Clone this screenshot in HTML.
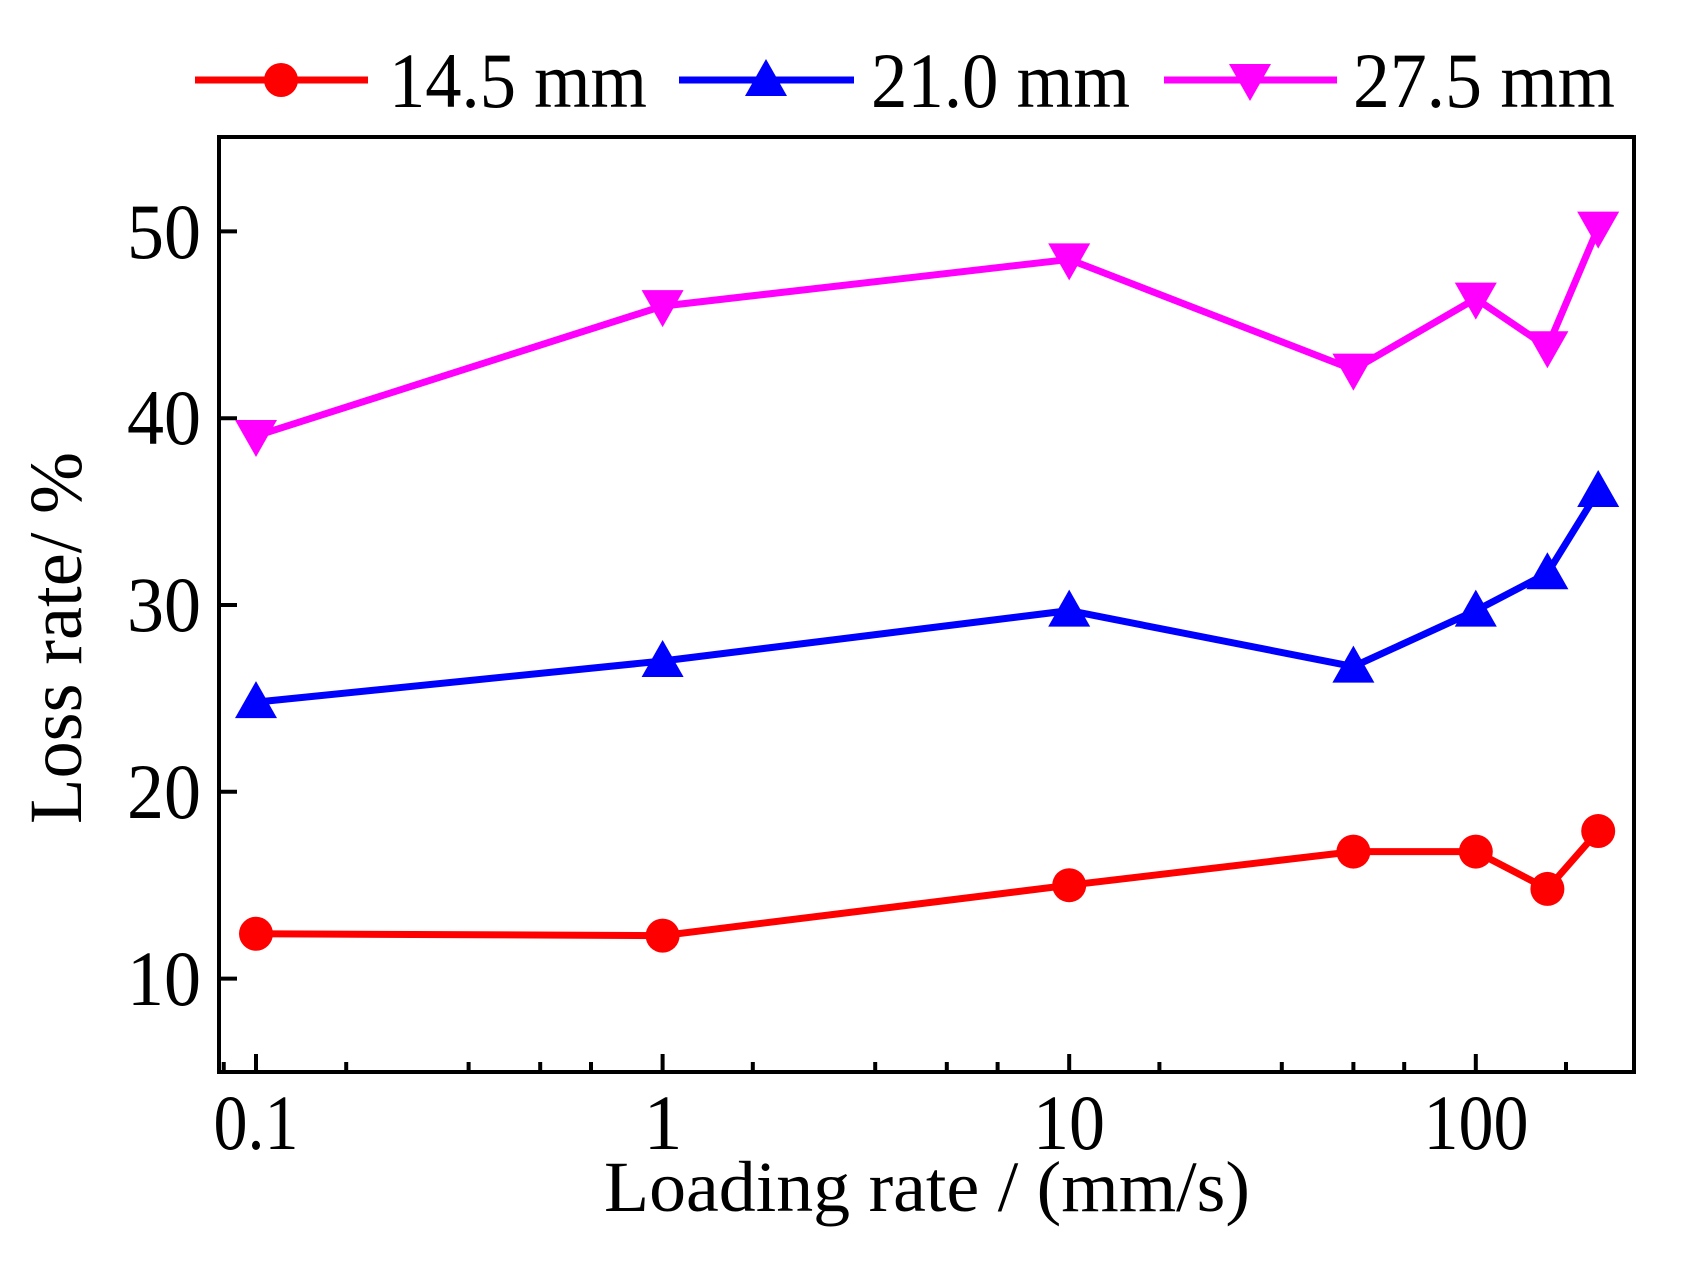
<!DOCTYPE html>
<html><head><meta charset="utf-8"><style>
html,body{margin:0;padding:0;background:#fff;}
svg{display:block;}
text{font-family:"Liberation Serif",serif;fill:#000;}
</style></head><body>
<svg id="s" width="1696" height="1268" viewBox="0 0 1696 1268" xmlns="http://www.w3.org/2000/svg">
<rect width="1696" height="1268" fill="#fff"/>
<g id="g"></g>
<rect x="219" y="137" width="1415" height="935" fill="none" stroke="#000" stroke-width="4"/>
<g font-size="78" text-anchor="end">
<text x="201" y="258" textLength="74" lengthAdjust="spacingAndGlyphs">50</text>
<text x="201" y="444" textLength="74" lengthAdjust="spacingAndGlyphs">40</text>
<text x="201" y="631" textLength="74" lengthAdjust="spacingAndGlyphs">30</text>
<text x="201" y="818" textLength="74" lengthAdjust="spacingAndGlyphs">20</text>
<text x="201" y="1005" textLength="74" lengthAdjust="spacingAndGlyphs">10</text>
</g>
<g font-size="78" text-anchor="middle">
<text x="256" y="1149" textLength="85" lengthAdjust="spacingAndGlyphs">0.1</text>
<text x="663" y="1149">1</text>
<text x="1069" y="1149" textLength="72" lengthAdjust="spacingAndGlyphs">10</text>
<text x="1476" y="1149" textLength="105" lengthAdjust="spacingAndGlyphs">100</text>
</g>
<text x="927" y="1211" font-size="72" text-anchor="middle" textLength="646" lengthAdjust="spacingAndGlyphs">Loading rate / (mm/s)</text>
<text transform="translate(81,638) rotate(-90)" font-size="75" text-anchor="middle" textLength="372" lengthAdjust="spacingAndGlyphs">Loss rate/ %</text>
<g font-size="78">
<line x1="195" y1="80" x2="368" y2="80" stroke="#f00" stroke-width="7"/>
<circle cx="281" cy="80" r="17" fill="#f00"/>
<text x="389" y="107" textLength="258" lengthAdjust="spacingAndGlyphs">14.5 mm</text>
<line x1="679" y1="80" x2="854" y2="80" stroke="#00f" stroke-width="7"/>
<polygon points="766,59 787,96 745,96" fill="#00f"/>
<text x="871" y="107" textLength="259" lengthAdjust="spacingAndGlyphs">21.0 mm</text>
<line x1="1164" y1="80" x2="1337" y2="80" stroke="#f0f" stroke-width="7"/>
<polygon points="1229,64 1271,64 1250,101" fill="#f0f"/>
<text x="1353" y="107" textLength="262" lengthAdjust="spacingAndGlyphs">27.5 mm</text>
</g>
</svg>
<script>
(function(){
var g=document.getElementById('g'),NS='http://www.w3.org/2000/svg';
function X(v){return 256+(Math.log10(v)+1)*406.6;}
function Y(v){return 231.4+(50-v)*18.68;}
function el(n,a){var e=document.createElementNS(NS,n);for(var k in a)e.setAttribute(k,a[k]);g.appendChild(e);return e;}
[0.1,1,10,100].forEach(function(v){var x=X(v);el('line',{x1:x,y1:1072,x2:x,y2:1054,stroke:'#000','stroke-width':4});});
var mins=[0.0833];
[0.1,1,10,100].forEach(function(d){[1.6667,3.3333,5,6.6667].forEach(function(n){var v=d*n;if(v<245)mins.push(v);});});
mins.forEach(function(v){var x=X(v);el('line',{x1:x,y1:1072,x2:x,y2:1062,stroke:'#000','stroke-width':4});});
[10,20,30,40,50].forEach(function(v){var y=Y(v);el('line',{x1:219,y1:y,x2:237,y2:y,stroke:'#000','stroke-width':4});});
var xs=[0.1,1,10,50,100,150,200];
var S=[
 {c:'#f00',m:'o',d:[12.4,12.3,15.0,16.8,16.8,14.8,17.9]},
 {c:'#00f',m:'u',d:[24.8,27.0,29.7,26.7,29.7,31.7,36.1]},
 {c:'#f0f',m:'d',d:[39.05,46.0,48.5,42.6,46.4,43.8,50.2]}
];
S.forEach(function(s){
 var pts=xs.map(function(x,i){return X(x).toFixed(1)+','+Y(s.d[i]).toFixed(1);}).join(' ');
 el('polyline',{points:pts,fill:'none',stroke:s.c,'stroke-width':7,'stroke-linejoin':'miter'});
 xs.forEach(function(x,i){var cx=X(x),cy=Y(s.d[i]);
  if(s.m=='o')el('circle',{cx:cx,cy:cy,r:17,fill:s.c});
  else if(s.m=='u')el('polygon',{points:cx+','+(cy-21)+' '+(cx+21)+','+(cy+16)+' '+(cx-21)+','+(cy+16),fill:s.c});
  else el('polygon',{points:(cx-21)+','+(cy-16)+' '+(cx+21)+','+(cy-16)+' '+cx+','+(cy+21),fill:s.c});
 });
});
})();
</script>
</body></html>
